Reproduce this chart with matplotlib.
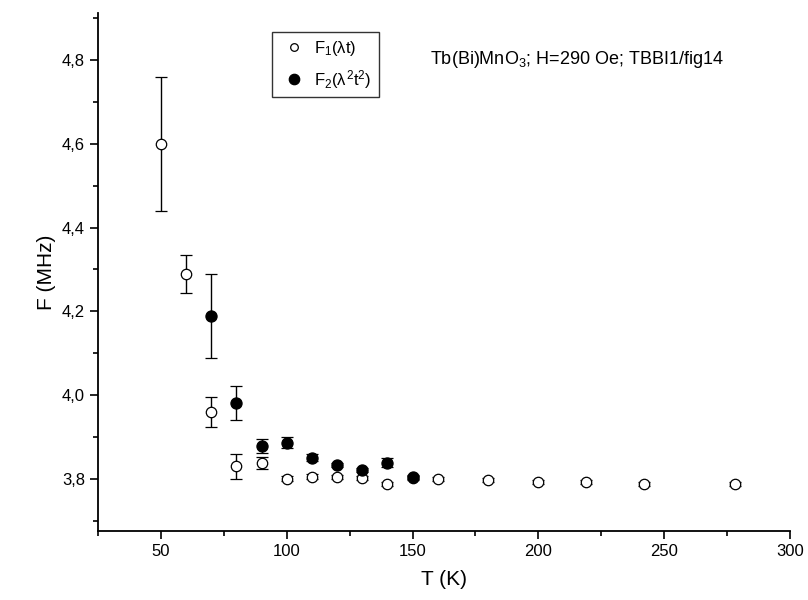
import numpy as np
import matplotlib
matplotlib.use("Agg")
import matplotlib.pyplot as plt
from matplotlib.lines import Line2D
from matplotlib.ticker import MultipleLocator, FuncFormatter

plt.rcParams['font.family'] = ['Liberation Sans', 'DejaVu Sans']
plt.rcParams['mathtext.fontset'] = 'custom'
plt.rcParams['mathtext.rm'] = 'Liberation Sans'
plt.rcParams['mathtext.it'] = 'Liberation Sans'

# F1 (open circles)
t1 = [50, 60, 70, 80, 90, 100, 110, 120, 130, 140, 150, 160, 180, 200, 219, 242, 278]
f1 = [4.60, 4.29, 3.96, 3.83, 3.838, 3.801, 3.805, 3.805, 3.803, 3.788, 3.802,
      3.800, 3.797, 3.793, 3.793, 3.788, 3.788]
e1 = [0.16, 0.045, 0.035, 0.03, 0.015, 0.006, 0.006, 0.005, 0.005, 0.005, 0.005,
      0.005, 0.005, 0.005, 0.005, 0.005, 0.005]

# F2 (filled circles)
t2 = [70, 80, 90, 100, 110, 120, 130, 140, 150]
f2 = [4.19, 3.982, 3.879, 3.887, 3.851, 3.834, 3.821, 3.839, 3.804]
e2 = [0.10, 0.04, 0.017, 0.014, 0.008, 0.005, 0.005, 0.01, 0.005]

fig = plt.figure(figsize=(8.08, 6.0), dpi=100)
ax = fig.add_axes([0.1213, 0.115, 0.8564, 0.8633])

ax.errorbar(t1, f1, yerr=e1, fmt='o', mfc='white', mec='black', ecolor='black',
            ms=7.5, mew=0.9, elinewidth=1.0, capsize=4, capthick=1.0, zorder=3)
ax.errorbar(t2, f2, yerr=e2, fmt='o', mfc='black', mec='black', ecolor='black',
            ms=8, mew=0.9, elinewidth=1.0, capsize=4, capthick=1.0, zorder=4)

ax.set_xlim(25, 300)
ax.set_ylim(3.676, 4.912)
ax.spines['top'].set_visible(False)
ax.spines['right'].set_visible(False)
ax.spines['left'].set_linewidth(1.3)
ax.spines['bottom'].set_linewidth(1.3)

ax.xaxis.set_major_locator(MultipleLocator(50))
ax.xaxis.set_minor_locator(MultipleLocator(25))
ax.yaxis.set_major_locator(MultipleLocator(0.2))
ax.yaxis.set_minor_locator(MultipleLocator(0.1))
ax.yaxis.set_major_formatter(FuncFormatter(lambda v, p: f"{v:.1f}".replace('.', ',')))
ax.tick_params(which='major', direction='out', length=6, width=1.2, labelsize=12)
ax.tick_params(which='minor', direction='out', length=3.5, width=1.2)

ax.set_xlabel('T (K)', fontsize=15, labelpad=8)
ax.set_ylabel('F (MHz)', fontsize=15)

handles = [
    Line2D([], [], ls='none', marker='o', mfc='white', mec='black', ms=5.5, mew=0.9),
    Line2D([], [], ls='none', marker='o', mfc='black', mec='black', ms=7.5, mew=0.9),
]
labels = [r'F$_1$($\lambda$t)', r'F$_2$($\lambda^2$t$^2$)']
leg = ax.legend(handles, labels, loc='upper left', bbox_to_anchor=(0.2514, 0.963),
                fontsize=12, frameon=True, fancybox=False, edgecolor='black',
                handlelength=1.9, handletextpad=0.25, borderpad=0.4, labelspacing=0.6,
                borderaxespad=0)
leg.get_frame().set_linewidth(1.0)

ax.text(0.48, 0.91, r'Tb(Bi)MnO$_3$; H=290 Oe; TBBI1/fig14', transform=ax.transAxes,
        fontsize=13, va='center', ha='left')

fig.savefig('out.png', dpi=100)
